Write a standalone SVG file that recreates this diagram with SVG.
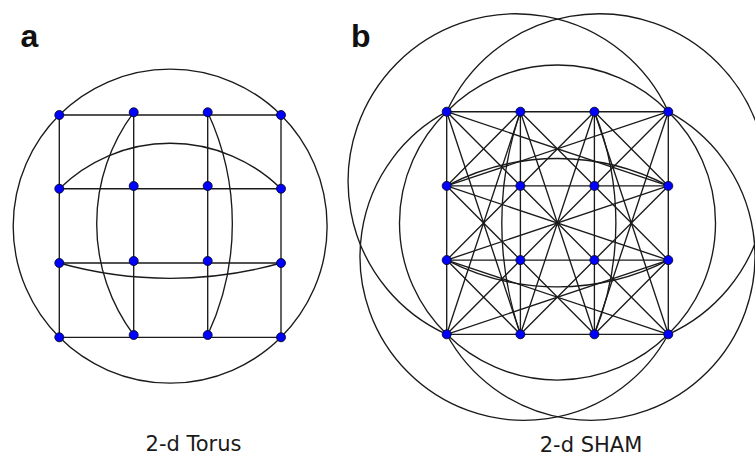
<svg xmlns="http://www.w3.org/2000/svg" width="755" height="456" viewBox="0 0 755 456">
<style>
.e{fill:none;stroke:#1a1a1a;stroke-width:1.35}
.n{fill:#0000ff;stroke:#0a0a28;stroke-width:0.9}
.lbl{font-family:"Liberation Sans",Arial,sans-serif;font-weight:bold;font-size:32px;fill:#111}
.cap{font-family:"DejaVu Sans","Liberation Sans",sans-serif;font-size:21px;fill:#1a1a1a;text-anchor:middle}
</style>
<rect width="755" height="456" fill="#fff"/>
<text class="lbl" x="20.5" y="47">a</text>
<text class="lbl" x="351" y="47">b</text>
<text class="cap" x="193.5" y="450.5">2-d Torus</text>
<text class="cap" x="591" y="451.5">2-d SHAM</text>

<g id="connectors-a">
<path class="e" d="M59.3,115H281M59.3,188.7H281M59.3,263H281M59.3,337.3H281"/>
<path class="e" d="M59.3,115V337.3M133.7,112.3V335M207.7,112.3V335M281,115V337.3"/>
<path class="e" d="M59.3,115A157,157 0 0 1 281,115"/>
<path class="e" d="M281,115A157,157 0 0 1 281,337.3"/>
<path class="e" d="M281,337.3A157,157 0 0 1 59.3,337.3"/>
<path class="e" d="M59.3,337.3A157,157 0 0 1 59.3,115"/>
<path class="e" d="M59.3,188.7A158,158 0 0 1 281,188.7"/>
<path class="e" d="M59.3,263A409,409 0 0 0 281,263"/>
<path class="e" d="M133.7,112.3A186,186 0 0 0 133.7,335"/>
<path class="e" d="M207.7,112.3A264,264 0 0 1 207.7,335"/>
</g>

<g id="connectors-b">
<path class="e" d="M446.7,111.7H668.3M446.7,185.9H668.3M446.7,260.1H668.3M446.7,334.3H668.3"/>
<path class="e" d="M446.7,111.7V334.3M520.4,111.7V334.3M594.4,111.7V334.3M668.3,111.7V334.3"/>
<path class="e" d="M446.7,111.7L668.3,334.3M520.4,111.7L668.3,260.1M594.4,111.7L668.3,185.9M446.7,185.9L594.4,334.3M446.7,260.1L520.4,334.3"/>
<path class="e" d="M668.3,111.7L446.7,334.3M594.4,111.7L446.7,260.1M520.4,111.7L446.7,185.9M668.3,185.9L520.4,334.3M668.3,260.1L594.4,334.3"/>
<path class="e" d="M446.7,111.7L668.3,185.9M446.7,185.9L668.3,111.7M446.7,185.9L668.3,260.1M446.7,260.1L668.3,185.9M446.7,260.1L668.3,334.3M446.7,334.3L668.3,260.1"/>
<path class="e" d="M446.7,111.7L520.4,334.3M520.4,111.7L446.7,334.3M520.4,111.7L594.4,334.3M594.4,111.7L520.4,334.3M594.4,111.7L668.3,334.3M668.3,111.7L594.4,334.3"/>
<path class="e" d="M446.7,111.7A154.8,154.8 0 0 1 668.3,111.7"/>
<path class="e" d="M446.7,334.3A157,157 0 0 0 668.3,334.3"/>
<path class="e" d="M446.7,111.7A154.8,154.8 0 0 0 446.7,334.3"/>
<path class="e" d="M668.3,111.7A154.8,154.8 0 0 1 668.3,334.3"/>
<path class="e" d="M446.7,185.9A237.7,237.7 0 0 1 668.3,185.9"/>
<path class="e" d="M446.7,260.1A243,243 0 0 0 668.3,260.1"/>
<path class="e" d="M520.4,111.7A342,342 0 0 0 520.4,334.3"/>
<path class="e" d="M594.4,111.7A299,299 0 0 1 594.4,334.3"/>
<path class="e" d="M668.3,111.7A167.7,167.7 0 1 0 446.7,334.3"/>
<path class="e" d="M446.7,111.7A167.7,167.7 0 1 1 668.3,334.3"/>
<path class="e" d="M446.7,111.7A164,164 0 1 0 668.3,334.3"/>
<path class="e" d="M668.3,111.7A164,164 0 1 1 446.7,334.3"/>
</g>

<g id="a-00"><circle class="n" cx="59.3" cy="115" r="4.5"/></g>
<g id="a-10"><circle class="n" cx="133.7" cy="112.3" r="4.5"/></g>
<g id="a-20"><circle class="n" cx="207.7" cy="112.3" r="4.5"/></g>
<g id="a-30"><circle class="n" cx="281" cy="115" r="4.5"/></g>
<g id="a-01"><circle class="n" cx="59.3" cy="188.7" r="4.5"/></g>
<g id="a-11"><circle class="n" cx="133.7" cy="186" r="4.5"/></g>
<g id="a-21"><circle class="n" cx="207.7" cy="186" r="4.5"/></g>
<g id="a-31"><circle class="n" cx="281" cy="188.7" r="4.5"/></g>
<g id="a-02"><circle class="n" cx="59.3" cy="263" r="4.5"/></g>
<g id="a-12"><circle class="n" cx="133.7" cy="261" r="4.5"/></g>
<g id="a-22"><circle class="n" cx="207.7" cy="261" r="4.5"/></g>
<g id="a-32"><circle class="n" cx="281" cy="263" r="4.5"/></g>
<g id="a-03"><circle class="n" cx="59.3" cy="337.3" r="4.5"/></g>
<g id="a-13"><circle class="n" cx="133.7" cy="335" r="4.5"/></g>
<g id="a-23"><circle class="n" cx="207.7" cy="335" r="4.5"/></g>
<g id="a-33"><circle class="n" cx="281" cy="337.3" r="4.5"/></g>

<g id="b-00"><circle class="n" cx="446.7" cy="111.7" r="4.5"/></g>
<g id="b-10"><circle class="n" cx="520.4" cy="111.7" r="4.5"/></g>
<g id="b-20"><circle class="n" cx="594.4" cy="111.7" r="4.5"/></g>
<g id="b-30"><circle class="n" cx="668.3" cy="111.7" r="4.5"/></g>
<g id="b-01"><circle class="n" cx="446.7" cy="185.9" r="4.5"/></g>
<g id="b-11"><circle class="n" cx="520.4" cy="185.9" r="4.5"/></g>
<g id="b-21"><circle class="n" cx="594.4" cy="185.9" r="4.5"/></g>
<g id="b-31"><circle class="n" cx="668.3" cy="185.9" r="4.5"/></g>
<g id="b-02"><circle class="n" cx="446.7" cy="260.1" r="4.5"/></g>
<g id="b-12"><circle class="n" cx="520.4" cy="260.1" r="4.5"/></g>
<g id="b-22"><circle class="n" cx="594.4" cy="260.1" r="4.5"/></g>
<g id="b-32"><circle class="n" cx="668.3" cy="260.1" r="4.5"/></g>
<g id="b-03"><circle class="n" cx="446.7" cy="334.3" r="4.5"/></g>
<g id="b-13"><circle class="n" cx="520.4" cy="334.3" r="4.5"/></g>
<g id="b-23"><circle class="n" cx="594.4" cy="334.3" r="4.5"/></g>
<g id="b-33"><circle class="n" cx="668.3" cy="334.3" r="4.5"/></g>
</svg>
